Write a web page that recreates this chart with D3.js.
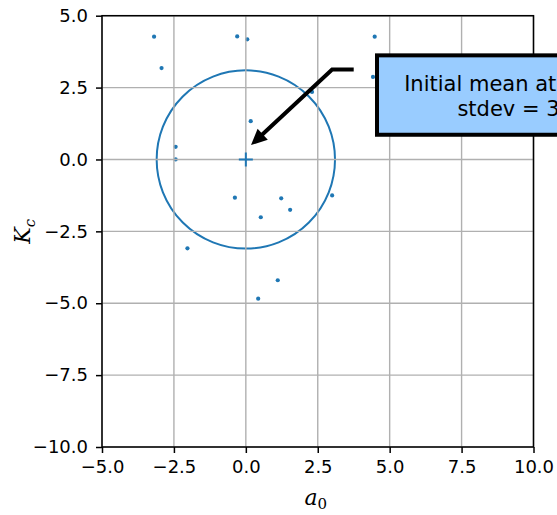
<!DOCTYPE html>
<html>
<head>
<meta charset="utf-8">
<script src="https://cdn.jsdelivr.net/npm/d3@7"></script>
<style>
  body { margin: 0; background: #fff; }
  svg { display: block; font-family: "DejaVu Sans", sans-serif; }
</style>
</head>
<body>
<svg id="chart"></svg>
<script>
// samples drawn around the initial mean (a0, Kc)
const sampleA0 = [-3.19, -2.93, -0.30, 0.05, 4.48, 4.42, 2.30, 0.17, -2.44, -2.44,
  -0.38, 1.23, 1.54, 0.52, 3.0, -2.03, 1.11, 0.43];
const sampleKc = [4.27, 3.18, 4.28, 4.18, 4.27, 2.87, 2.35, 1.33, 0.44, 0.0,
  -1.33, -1.35, -1.75, -2.01, -1.25, -3.09, -4.2, -4.84];
const meanPoint = [0, 0];
const circleRadius = 3.1;
const xTicks = [-5, -2.5, 0, 2.5, 5, 7.5, 10];
const yTicks = [5, 2.5, 0, -2.5, -5, -7.5, -10];
const noteLines = ["Initial mean at (0,0)", "stdev = 3"];
// annotation anchor points in data units: tail, elbow, tip
const arrowPts = [[3.75, 3.13], [3.0, 3.13], [0.18, 0.5]];
const noteCenter = [9.13, 2.24];

const width = 557, height = 515;
const margin = { top: 15.7, right: 23.5, bottom: 68, left: 102 };
const blue = "#1f77b4";

const svg = d3.select("#chart").attr("width", width).attr("height", height);

const x = d3.scaleLinear().domain([-5, 10]).range([margin.left, width - margin.right]);
const y = d3.scaleLinear().domain([-10, 5]).range([height - margin.bottom, margin.top]);

const fmt = d => d3.format(".1f")(d).replace("-", "\u2212");

const plot = svg.append("g");

// samples sit under the grid, like matplotlib collections
plot.append("g")
  .selectAll("circle")
  .data(d3.zip(sampleA0, sampleKc))
  .join("circle")
  .attr("cx", d => x(d[0]))
  .attr("cy", d => y(d[1]))
  .attr("r", 2.1)
  .attr("fill", blue);

// stdev circle
plot.append("ellipse")
  .attr("cx", x(meanPoint[0]))
  .attr("cy", y(meanPoint[1]))
  .attr("rx", x(circleRadius) - x(0))
  .attr("ry", y(0) - y(circleRadius))
  .attr("fill", "none")
  .attr("stroke", blue)
  .attr("stroke-width", 2);

// grid
const grid = plot.append("g").attr("stroke", "#b0b0b0").attr("stroke-width", 1.4);
grid.selectAll(".gx").data(xTicks).join("line")
  .attr("x1", d => x(d)).attr("x2", d => x(d))
  .attr("y1", y(-10)).attr("y2", y(5));
grid.selectAll(".gy").data(yTicks).join("line")
  .attr("y1", d => y(d)).attr("y2", d => y(d))
  .attr("x1", x(-5)).attr("x2", x(10));

// mean marker
const mx = x(meanPoint[0]), my = y(meanPoint[1]);
plot.append("path")
  .attr("d", `M${mx - 7},${my}H${mx + 7}M${mx},${my - 7}V${my + 7}`)
  .attr("stroke", blue)
  .attr("stroke-width", 2);

// axes
const xAxis = d3.axisBottom(x).tickValues(xTicks).tickFormat(fmt).tickSizeOuter(0).tickSize(6).tickPadding(7);
const yAxis = d3.axisLeft(y).tickValues(yTicks).tickFormat(fmt).tickSizeOuter(0).tickSize(6).tickPadding(8);

const xG = svg.append("g").attr("transform", `translate(0,${y(-10)})`).call(xAxis);
const yG = svg.append("g").attr("transform", `translate(${x(-5)},0)`).call(yAxis);
[xG, yG].forEach(g => {
  g.select(".domain").remove();
  g.selectAll(".tick line").attr("stroke", "#000").attr("stroke-width", 1.5);
  g.selectAll(".tick text").attr("fill", "#000").style("font-size", "18px")
    .style("font-family", "'DejaVu Sans', sans-serif");
});

// spines
svg.append("rect")
  .attr("x", x(-5)).attr("y", y(5))
  .attr("width", x(10) - x(-5)).attr("height", y(-10) - y(5))
  .attr("fill", "none").attr("stroke", "#000").attr("stroke-width", 1.5);

// axis labels
svg.append("text")
  .attr("x", (x(-5) + x(10)) / 2 - 2)
  .attr("y", 505)
  .attr("text-anchor", "middle")
  .style("font-family", "'DejaVu Serif', serif")
  .style("font-style", "italic")
  .style("font-size", "22px")
  .html('a<tspan dy="4" font-size="15" font-style="normal">0</tspan>');

svg.append("text")
  .attr("transform", `translate(30,${(y(5) + y(-10)) / 2}) rotate(-90)`)
  .attr("text-anchor", "middle")
  .style("font-family", "'DejaVu Serif', serif")
  .style("font-style", "italic")
  .style("font-size", "22px")
  .html('K<tspan dy="5" font-size="15">c</tspan>');

// annotation arrow
const pts = arrowPts.map(p => [x(p[0]), y(p[1])]);
const tip = pts[2], elbow = pts[1];
const dx = tip[0] - elbow[0], dy = tip[1] - elbow[1];
const len = Math.hypot(dx, dy);
const ux = dx / len, uy = dy / len;
const headLen = 16, headHalf = 7.5;
const base = [tip[0] - ux * headLen, tip[1] - uy * headLen];

svg.append("path")
  .attr("d", d3.line()([pts[0], elbow, [base[0] + ux * 2, base[1] + uy * 2]]))
  .attr("fill", "none")
  .attr("stroke", "#000")
  .attr("stroke-width", 4)
  .attr("stroke-linejoin", "miter");

svg.append("path")
  .attr("d", d3.line()([
    tip,
    [base[0] - uy * headHalf, base[1] + ux * headHalf],
    [base[0] + uy * headHalf, base[1] - ux * headHalf]
  ]) + "Z")
  .attr("fill", "#000");

// annotation box (runs off the right edge, as in the original)
const cx = x(noteCenter[0]), cy = y(noteCenter[1]);
svg.append("rect")
  .attr("x", 377)
  .attr("y", cy - 39.7)
  .attr("width", 2 * (cx - 377))
  .attr("height", 79.4)
  .attr("fill", "#99ccff")
  .attr("stroke", "#000")
  .attr("stroke-width", 4);

svg.append("g")
  .selectAll("text")
  .data(noteLines)
  .join("text")
  .attr("x", cx)
  .attr("y", (d, i) => cy - 4 + i * 25)
  .attr("text-anchor", "middle")
  .style("font-size", "21px")
  .attr("fill", "#000")
  .text(d => d);
</script>
</body>
</html>
